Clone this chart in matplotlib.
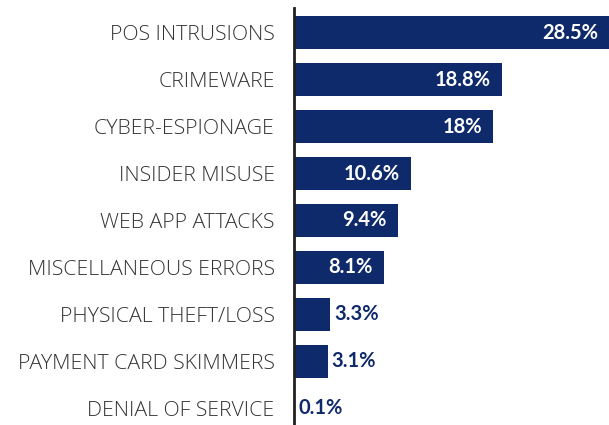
import matplotlib.pyplot as plt

categories = ["POS INTRUSIONS", "CRIMEWARE", "CYBER-ESPIONAGE", "INSIDER MISUSE",
              "WEB APP ATTACKS", "MISCELLANEOUS ERRORS", "PHYSICAL THEFT/LOSS",
              "PAYMENT CARD SKIMMERS", "DENIAL OF SERVICE"]
values = [28.5, 18.8, 18, 10.6, 9.4, 8.1, 3.3, 3.1, 0.1]
value_labels = ["28.5%", "18.8%", "18%", "10.6%", "9.4%", "8.1%", "3.3%", "3.1%", "0.1%"]

navy = "#0f2a6b"
W, H = 609, 425

fig = plt.figure(figsize=(W / 100, H / 100), dpi=100)
ax = fig.add_axes([294 / W, 0, 1 - 294 / W, 1 - 8 / H])

ys = list(range(len(categories)))
ax.barh(ys, values, height=0.7, color=navy)

ax.set_xlim(0, 28.5)
ax.set_ylim(8.36, -0.53)

# values: white inside long bars, navy just past short ones
for y, v, lab in zip(ys, values, value_labels):
    if v > 6:
        ax.annotate(lab, xy=(v, y), xytext=(-8, 0), textcoords="offset points",
                    ha="right", va="center", color="white", fontsize=14.5,
                    fontweight="bold", family="Lato")
    else:
        ax.annotate(lab, xy=(v, y), xytext=(2.5, 0), textcoords="offset points",
                    ha="left", va="center", color=navy, fontsize=14.5,
                    fontweight="bold", family="Lato")

ax.set_yticks(ys)
ax.set_yticklabels(categories, fontsize=15.3, color="#333333", family="Open Sans",
                   fontweight="light")
ax.tick_params(axis="y", length=0, pad=14)
ax.set_xticks([])
for s in ["top", "right", "bottom"]:
    ax.spines[s].set_visible(False)
ax.spines["left"].set_linewidth(2)
ax.spines["left"].set_color("#231f20")

fig.savefig("out.png", dpi=100)
